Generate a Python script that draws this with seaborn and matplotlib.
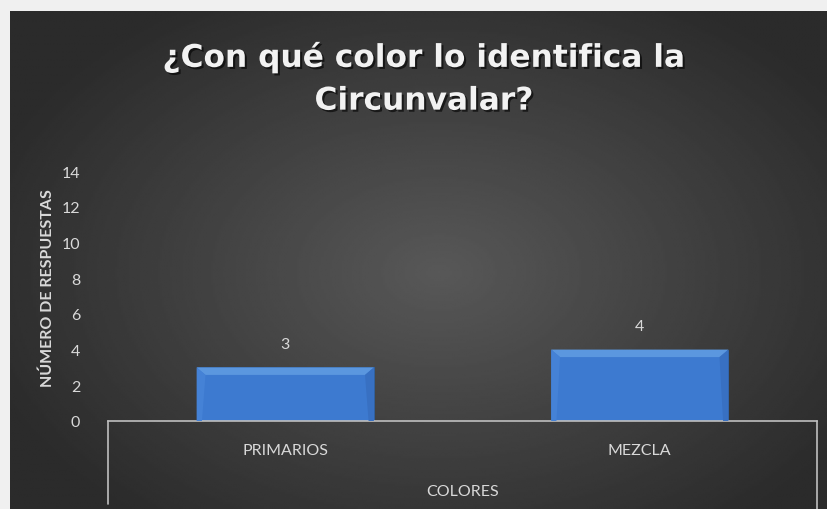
import numpy as np
import pandas as pd
import seaborn as sns
import matplotlib.pyplot as plt
from matplotlib.patches import Polygon
import matplotlib.patheffects as pe

# data
categorias = ["PRIMARIOS", "MEZCLA"]
respuestas = [3, 4]
y_ticks = [0, 2, 4, 6, 8, 10, 12, 14]

titulo = "¿Con qué color lo identifica la\nCircunvalar?"
eje_x = "COLORES"
eje_y = "NÚMERO DE RESPUESTAS"

TXT = "#d9d9d9"
BAR = "#3d7ad0"

sns.set_style("white")
plt.rcParams["font.family"] = ["Lato", "DejaVu Sans"]

df = pd.DataFrame({"categoria": categorias, "respuestas": respuestas})

W, H = 827, 510
fig = plt.figure(figsize=(W / 100, H / 100), dpi=100)
fig.patch.set_facecolor("#f0f0f0")

# dark radial background panel
bg = fig.add_axes([10 / W, 0, 817 / W, 498 / H])
bg.set_axis_off()
gx, gy = np.meshgrid(np.linspace(-1, 1, 400), np.linspace(-1, 1, 250))
r = np.sqrt(((gx - 0.05) / 1.1) ** 2 + ((gy - 0.05) / 1.2) ** 2)
shade = np.clip(0.345 - 0.165 * r, 0.17, 0.345)
bg.imshow(shade, cmap="gray", vmin=0, vmax=1, aspect="auto",
          extent=[0, 1, 0, 1], interpolation="bilinear")
bg.set_xlim(0, 1)
bg.set_ylim(0, 1)

ax = fig.add_axes([108 / W, (H - 422) / H, 709 / W, 250 / H])
ax.set_facecolor("none")

sns.barplot(data=df, x="categoria", y="respuestas", color=BAR, width=0.5,
            saturation=1, edgecolor="#30609f", linewidth=0.6, ax=ax)

# bevel: lighter top face, slightly shaded sides
for p in ax.patches:
    x0, y0 = p.get_x(), p.get_y()
    w, h = p.get_width(), p.get_height()
    dx, dy = 0.025, 0.42
    ax.add_patch(Polygon([[x0, y0 + h], [x0 + w, y0 + h],
                          [x0 + w - dx, y0 + h - dy], [x0 + dx, y0 + h - dy]],
                         closed=True, facecolor="#5b97df", edgecolor="none",
                         zorder=3))
    ax.add_patch(Polygon([[x0 + w, y0 + h], [x0 + w, y0],
                          [x0 + w - dx * 0.6, y0], [x0 + w - dx, y0 + h - dy]],
                         closed=True, facecolor="#3870c2", edgecolor="none",
                         zorder=3))
    ax.add_patch(Polygon([[x0, y0 + h], [x0, y0],
                          [x0 + dx * 0.6, y0], [x0 + dx, y0 + h - dy]],
                         closed=True, facecolor="#4582d6", edgecolor="none",
                         zorder=3))

ax.bar_label(ax.containers[0], labels=[str(v) for v in respuestas],
             padding=12, color=TXT, fontsize=11.5)

ax.set_xlim(-0.5, 1.5)
ax.set_ylim(0, 14)
ax.set_yticks(y_ticks)
ax.tick_params(axis="y", length=0, pad=20, labelcolor=TXT, labelsize=11.5)
ax.tick_params(axis="x", length=0, pad=16, labelcolor=TXT, labelsize=11.5)
ax.set_xlabel(eje_x, color=TXT, fontsize=11.5, labelpad=19)
ax.set_ylabel("")

for s in ["top", "right", "left"]:
    ax.spines[s].set_visible(False)
ax.spines["bottom"].set_color("#bfbfbf")
ax.spines["bottom"].set_linewidth(1.2)

# category group box lines under the axis
trans = ax.get_xaxis_transform()
ax.plot([-0.5, -0.5], [0, -0.33], transform=trans, color="#bfbfbf",
        lw=1.2, clip_on=False)
ax.plot([1.5, 1.5], [0, -0.36], transform=trans, color="#bfbfbf",
        lw=1.2, clip_on=False)

fig.text(48 / W, (H - 288) / H, eje_y, rotation=90, ha="center", va="center",
         color=TXT, fontsize=11.5, fontweight="bold")

fig.text(424 / W, (H - 80) / H, titulo, ha="center", va="center",
         color="#f2f2f2", fontsize=22.5, fontweight="bold", linespacing=1.6,
         family=["DejaVu Sans"],
         path_effects=[pe.withSimplePatchShadow(offset=(1.5, -1.5),
                                                shadow_rgbFace="black",
                                                alpha=0.6)])

fig.savefig("out.png", dpi=100, facecolor=fig.get_facecolor())
